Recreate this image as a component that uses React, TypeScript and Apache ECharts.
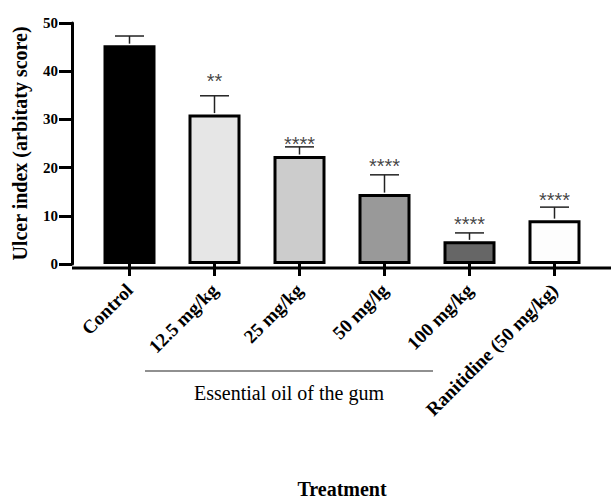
import React, { useEffect, useRef } from "react";
import * as echarts from "echarts";

const categories = ["Control", "12.5 mg/kg", "25 mg/kg", "50 mg/lg", "100 mg/kg", "Ranitidine (50 mg/kg)"];
const means = [45.4, 31.0, 22.4, 14.5, 4.7, 9.1];
const errors = [1.9, 3.9, 1.9, 4.0, 1.75, 2.7];
const barColors = ["#000000", "#e6e6e6", "#cccccc", "#999999", "#666666", "#fdfdfd"];
const stars = ["", "**", "****", "****", "****", "****"];
const starY = [null, 38.0, 25.0, 20.3, 8.4, 13.2];
const yTicks = { min: 0, max: 50, interval: 10 };

const W = 611;
const H = 500;
const gridLeft = 87;
const gridRight = 14;
const gridTop = 23;
const gridBottom = 232;

export default function App() {
  const ref = useRef<HTMLDivElement>(null);
  useEffect(() => {
    if (!ref.current) return;
    const chart = echarts.init(ref.current, null, { renderer: "svg" });
    const serif = "'Liberation Serif', 'Times New Roman', serif";
    const axisY = H - gridBottom;
    chart.setOption({
      animation: false,
      backgroundColor: "#ffffff",
      grid: { left: gridLeft, right: gridRight, top: gridTop, bottom: gridBottom, containLabel: false },
      xAxis: {
        type: "category",
        data: categories,
        axisLine: { show: false },
        axisTick: { show: true, alignWithLabel: true, length: 12, lineStyle: { color: "#000", width: 3 } },
        axisLabel: {
          rotate: 45,
          interval: 0,
          margin: 23,
          fontFamily: serif,
          fontWeight: "bold",
          fontSize: 19,
          color: "#000",
        },
        name: "Treatment",
        nameLocation: "middle",
        nameGap: 215,
        nameTextStyle: { fontFamily: serif, fontWeight: "bold", fontSize: 20, color: "#000" },
      },
      yAxis: {
        type: "value",
        min: yTicks.min,
        max: yTicks.max,
        interval: yTicks.interval,
        offset: 15,
        splitLine: { show: false },
        axisLine: { show: true, lineStyle: { color: "#000", width: 3 } },
        axisTick: { show: true, length: 13, lineStyle: { color: "#000", width: 3 } },
        axisLabel: { margin: 14, fontFamily: serif, fontWeight: "bold", fontSize: 15, color: "#000" },
        name: "Ulcer index (arbitaty score)",
        nameLocation: "middle",
        nameRotate: 90,
        nameGap: 42,
        nameTextStyle: { fontFamily: serif, fontWeight: "bold", fontSize: 20, color: "#000" },
      },
      series: [
        {
          type: "bar",
          barWidth: 52,
          data: means.map((v, i) => ({
            value: v,
            itemStyle: { color: barColors[i], borderColor: "#000", borderWidth: 3 },
          })),
          z: 2,
        },
        {
          type: "custom",
          z: 3,
          data: means.map((v, i) => [i, v, v + errors[i]]),
          renderItem: (params: any, api: any) => {
            const p0 = api.coord([api.value(0), api.value(1)]);
            const p1 = api.coord([api.value(0), api.value(2)]);
            const st = { stroke: "#222", lineWidth: 1.5 };
            return {
              type: "group",
              children: [
                { type: "line", shape: { x1: p0[0], y1: p0[1] - 1.5, x2: p1[0], y2: p1[1] }, style: st },
                { type: "line", shape: { x1: p1[0] - 14.5, y1: p1[1], x2: p1[0] + 14.5, y2: p1[1] }, style: st },
              ],
            };
          },
        },
        {
          type: "scatter",
          symbolSize: 0,
          z: 4,
          data: starY.map((y, i) => (y === null ? null : { value: [i, y], name: stars[i] })),
          label: {
            show: true,
            position: "inside",
            formatter: (p: any) => p.name,
            fontFamily: "'Liberation Sans', Arial, sans-serif",
            fontSize: 20,
            color: "#111",
          },
        },
      ],
      graphic: [
        {
          type: "line",
          z: 100,
          shape: { x1: 72, y1: axisY, x2: W, y2: axisY },
          style: { stroke: "#000", lineWidth: 3 },
        },
        {
          type: "line",
          z: 100,
          shape: { x1: 145, y1: 371, x2: 433, y2: 371 },
          style: { stroke: "#222", lineWidth: 1.2 },
        },
        {
          type: "text",
          z: 100,
          x: 289,
          y: 393,
          style: {
            text: "Essential oil of the gum",
            fontFamily: serif,
            fontSize: 20,
            fill: "#000",
            align: "center",
            verticalAlign: "middle",
          },
        },
      ],
    });
    return () => chart.dispose();
  }, []);
  return <div ref={ref} style={{ position: "fixed", left: 0, top: 0, width: W, height: H }} />;
}
